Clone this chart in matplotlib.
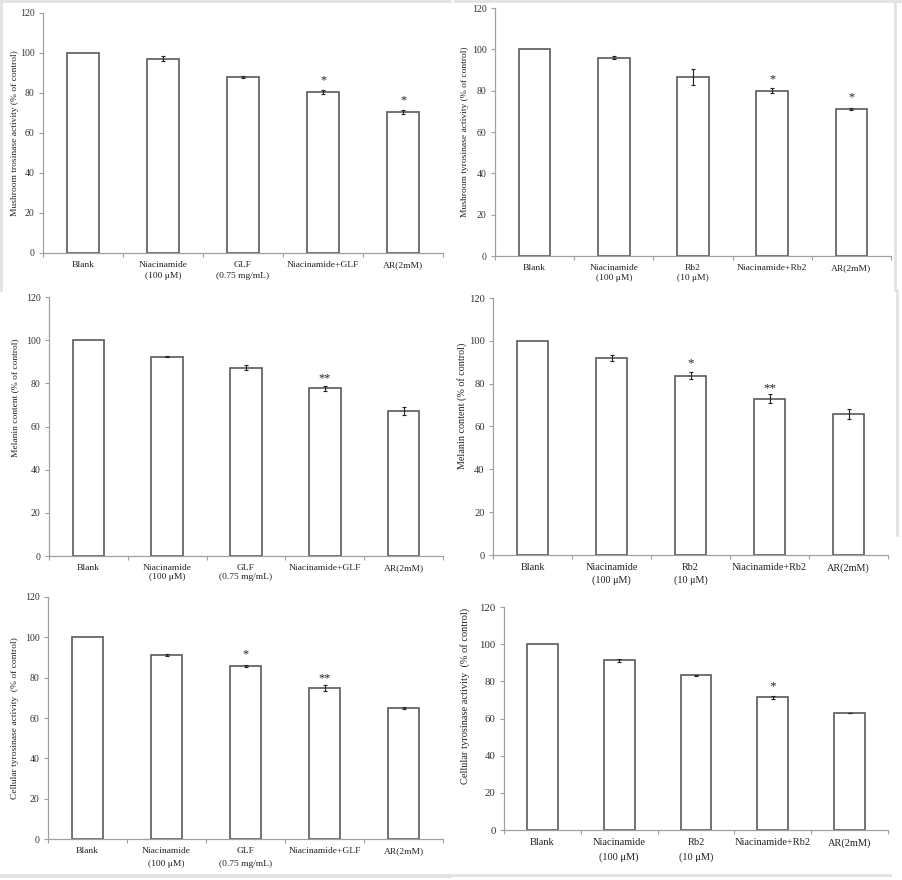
import numpy as np
import matplotlib.pyplot as plt
from matplotlib.lines import Line2D

plt.rcParams['font.family'] = ['Liberation Serif', 'DejaVu Serif']

# 各组处理的名称
labels_glf = ['Blank', 'Niacinamide\n(100 μM)', 'GLF\n(0.75 mg/mL)', 'Niacinamide+GLF', 'AR(2mM)']
labels_rb2 = ['Blank', 'Niacinamide\n(100 μM)', 'Rb2\n(10 μM)', 'Niacinamide+Rb2', 'AR(2mM)']

# 蘑菇酪氨酸酶活性
mush_glf = [100, 97.1, 87.8, 80.5, 70.5]
mush_glf_err = [0, 1.3, 0.5, 1.2, 0.8]
mush_glf_sig = ['', '', '', '*', '*']
mush_rb2 = [100, 96.0, 86.5, 80.0, 71.0]
mush_rb2_err = [0, 0.9, 3.8, 1.2, 0.5]
mush_rb2_sig = ['', '', '', '*', '*']

# 黑色素含量
mel_glf = [100, 92.3, 87.3, 77.7, 67.2]
mel_glf_err = [0, 0.2, 1.3, 1.2, 2.0]
mel_glf_sig = ['', '', '', '**', '']
mel_rb2 = [100, 92.0, 83.8, 73.0, 66.0]
mel_rb2_err = [0, 1.5, 1.5, 2.2, 2.4]
mel_rb2_sig = ['', '', '*', '**', '']

# 细胞酪氨酸酶活性
cell_glf = [100, 91.0, 86.0, 75.0, 65.0]
cell_glf_err = [0, 0.5, 0.5, 1.6, 0.5]
cell_glf_sig = ['', '', '*', '**', '']
cell_rb2 = [100, 91.3, 83.3, 71.5, 63.0]
cell_rb2_err = [0, 0.8, 0.3, 0.8, 0.2]
cell_rb2_sig = ['', '', '', '*', '']

ylab_mush_glf = 'Mushroom trosinase activity (% of control)'
ylab_mush_rb2 = 'Mushroom tyrosinase activity (% of control)'
ylab_mel = 'Melanin content (% of control)'
ylab_cell = 'Cellular tyrosinase activity  (% of control)'

W, H = 902, 880
fig = plt.figure(figsize=(W / 100, H / 100), dpi=100)

# 每个子图: (数据, 误差, 显著性, 标签, y轴名, 像素框 left,right,top,bottom, 字号, 行距, ylabel位置)
panels = [
    (mush_glf, mush_glf_err, mush_glf_sig, labels_glf, ylab_mush_glf, (43, 443, 13, 253), 6.8, 1.45, (-28, 0.5)),
    (mush_rb2, mush_rb2_err, mush_rb2_sig, labels_rb2, ylab_mush_rb2, (495, 891, 8, 256), 6.8, 1.25, (-30, 0.5)),
    (mel_glf, mel_glf_err, mel_glf_sig, labels_glf, ylab_mel, (49, 443, 297, 556), 6.8, 1.15, (-34, 0.61)),
    (mel_rb2, mel_rb2_err, mel_rb2_sig, labels_rb2, ylab_mel, (493, 888, 298, 555), 7.3, 1.4, (-31, 0.58)),
    (cell_glf, cell_glf_err, cell_glf_sig, labels_glf, ylab_cell, (48, 443, 597, 839), 6.8, 1.85, (-33, 0.5)),
    (cell_rb2, cell_rb2_err, cell_rb2_sig, labels_rb2, ylab_cell, (504, 888, 607, 830), 7.5, 1.65, (-39, 0.6)),
]

for vals, errs, sigs, labels, ylab, box, fs, lsp, ylpos in panels:
    l, r, t, b = box
    ax = fig.add_axes([l / W, 1 - b / H, (r - l) / W, (b - t) / H])
    x = np.arange(len(vals))

    ax.bar(x, vals, width=0.4, color='white', edgecolor='#5a5a5a', linewidth=1.2, zorder=2)

    # Blank 组没有误差线
    idx = [i for i in x if errs[i] > 0]
    ax.errorbar(x[idx], np.array(vals)[idx], yerr=np.array(errs)[idx], fmt='none',
                ecolor='#222222', elinewidth=0.8, capsize=1.5, capthick=0.8, zorder=3)

    for i, s in enumerate(sigs):
        if s:
            off = 5.6 if s == '*' else 4.6
            ax.text(i, vals[i] + off, s, ha='center', va='center',
                    fontsize=fs + 2, color='#222222')

    ax.set_xlim(-0.5, len(vals) - 0.5)
    ax.set_ylim(0, 120)
    ax.set_yticks(range(0, 121, 20))

    # 类别之间的刻度线
    ax.set_xticks(np.arange(-0.5, len(vals), 1.0))
    ax.set_xticklabels([])
    ax.set_xticks(x, minor=True)
    ax.set_xticklabels(labels, minor=True, fontsize=fs, color='#222222', linespacing=lsp)
    ax.tick_params(axis='x', which='major', length=3, color='#a0a0a0', direction='out')
    ax.tick_params(axis='x', which='minor', length=0, pad=6)
    ax.tick_params(axis='y', length=3, color='#a0a0a0', labelsize=fs + 0.3, labelcolor='#333333', pad=3)

    for sp in ['top', 'right']:
        ax.spines[sp].set_visible(False)
    for sp in ['left', 'bottom']:
        ax.spines[sp].set_color('#a0a0a0')
        ax.spines[sp].set_linewidth(0.9)

    ax.set_ylabel(ylab, fontsize=fs, color='#222222', va='center')
    ax.yaxis.set_label_coords(ylpos[0] / (r - l), ylpos[1])

# 原图拼接留下的浅灰边框
grey = '#e2e2e2'
fig.add_artist(Line2D([0, 450 / W], [1 - 1 / H, 1 - 1 / H], color=grey, lw=2))
fig.add_artist(Line2D([1 / W, 1 / W], [1 - 290 / H, 1], color=grey, lw=2))
fig.add_artist(Line2D([455 / W, 1], [1 - 1 / H, 1 - 1 / H], color=grey, lw=2))
fig.add_artist(Line2D([895 / W, 895 / W], [1 - 290 / H, 1], color=grey, lw=2))
fig.add_artist(Line2D([897 / W, 897 / W], [1 - 535 / H, 1 - 290 / H], color=grey, lw=2))
fig.add_artist(Line2D([0, 450 / W], [1 - 876 / H, 1 - 876 / H], color=grey, lw=3))
fig.add_artist(Line2D([452 / W, 890 / W], [1 - 875 / H, 1 - 875 / H], color=grey, lw=2))

fig.savefig('out.png', dpi=100)
